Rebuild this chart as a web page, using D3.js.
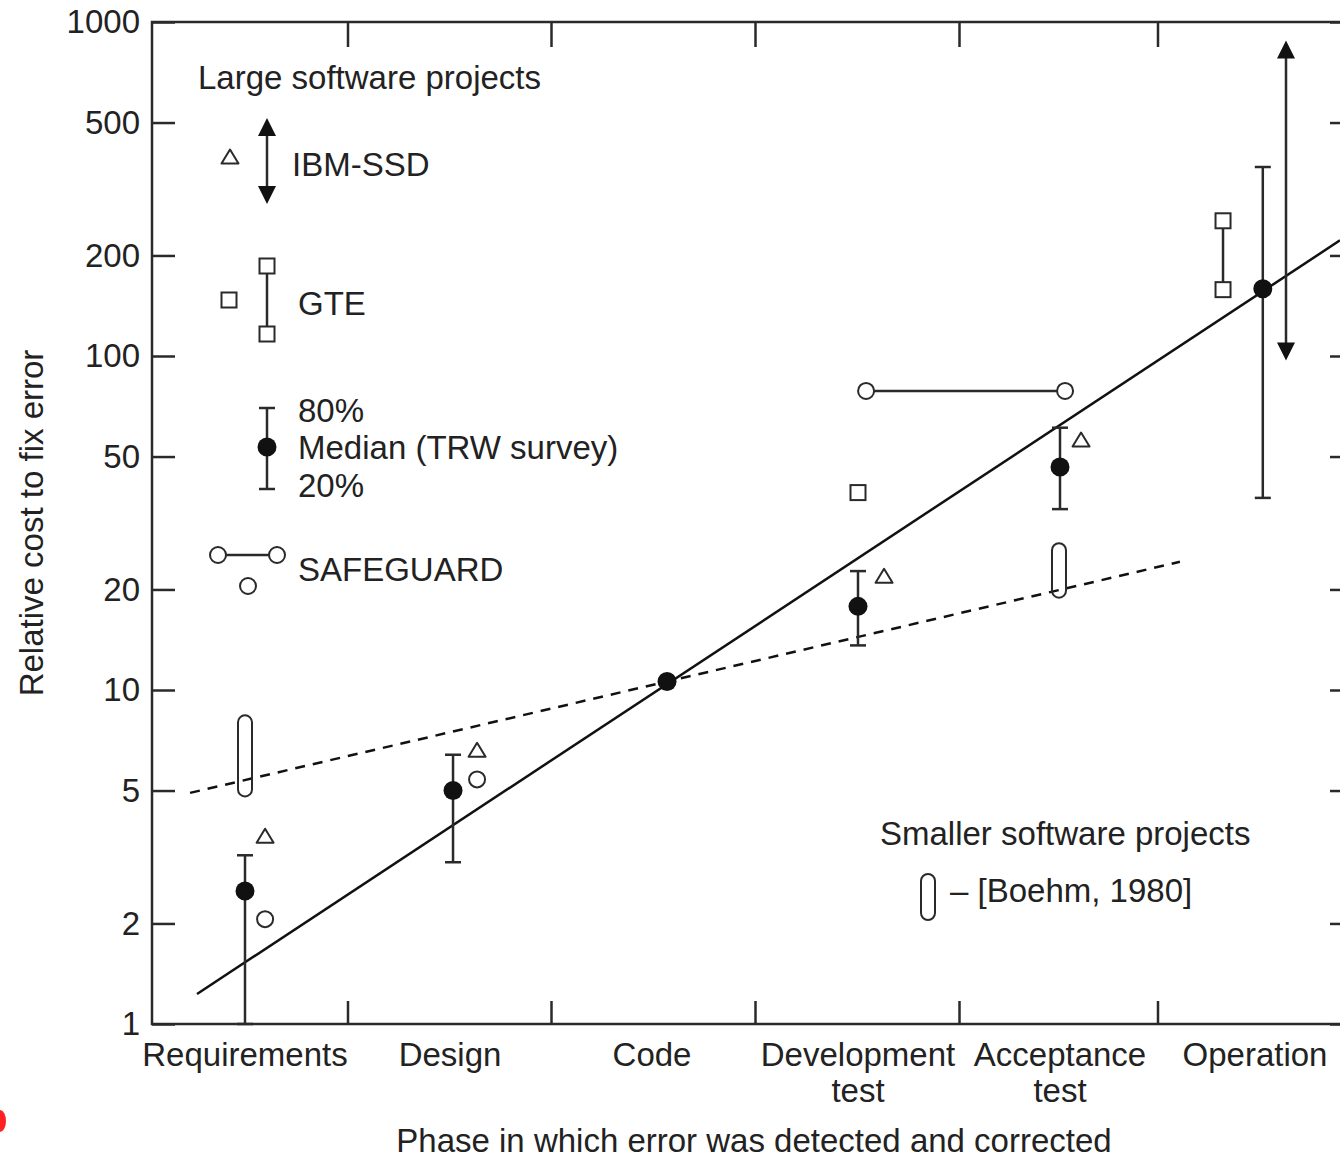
<!DOCTYPE html>
<html>
<head>
<meta charset="utf-8">
<script src="https://cdn.jsdelivr.net/npm/d3@7"></script>
<style>
  html, body { margin: 0; padding: 0; background: #fff; }
  svg { display: block; }
  text { font-family: "Liberation Sans", Arial, Helvetica, sans-serif; fill: #222; }
</style>
</head>
<body>
<svg id="chart" width="1340" height="1159"></svg>
<script>
// ---------------- DATA ----------------
const phases = ["Requirements", "Design", "Code", "Development\ntest", "Acceptance\ntest", "Operation"];
const phaseBoundaries = [0.5, 1.5, 2.5, 3.5, 4.5];
const yTicks = [1, 2, 5, 10, 20, 50, 100, 200, 500, 1000];

// TRW survey: median with 20% / 80% range
const trwPhase  = [0, 1.015, 2.073, 3, 4, 5.04];
const trwMedian = [2.5, 5.0, 10.6, 17.8, 46.5, 159];
const trwP80    = [3.2, 6.4, null, 22.7, 61, 368];
const trwP20    = [1.0, 3.05, null, 13.6, 34.8, 37.6];

// IBM-SSD (triangles) and range arrow
const ibmPhase = [0.098, 1.134, 3.129, 4.108];
const ibmValue = [3.65, 6.6, 21.9, 56];
const ibmRangePhase = 5.159;
const ibmRange = [97, 880];

// GTE (squares)
const gtePhase = [3.0];
const gteValue = [39];
const gteRangePhase = 4.836;
const gteRange = [158, 254];

// SAFEGUARD (open circles)
const sgPhase = [0.098, 1.134];
const sgValue = [2.06, 5.4];
const sgRangePhase = [3.04, 4.026];
const sgRangeValue = 78.6;

// Boehm 1980, smaller software projects (capsules)
const boehmPhase = [0, 3.995];
const boehmLow   = [4.8, 18.9];
const boehmHigh  = [8.4, 27.5];

// Trend lines
const solidTrendPhase = [-0.234, 5.436];
const solidTrendValue = [1.23, 222];
const dashTrendPhase  = [-0.268, 4.615];
const dashTrendValue  = [4.92, 24.2];

// ---------------- LAYOUT ----------------
const svg = d3.select("#chart");
const FONT = 33;
const INK = "#2a2a2a";
const plotLeft = 152, plotRight = 1352;

const x = d3.scaleLinear().domain([0, 1, 2, 3, 4, 5]).range([245, 450, 652, 858, 1060, 1255]);
const y = d3.scaleLog().domain([1, 1000]).range([1024, 22]);
const plotTop = y(1000), plotBottom = y(1);

// frame
svg.append("rect")
  .attr("x", plotLeft).attr("y", plotTop)
  .attr("width", plotRight - plotLeft).attr("height", plotBottom - plotTop)
  .attr("fill", "none").attr("stroke", INK).attr("stroke-width", 2.5);

// left axis
const gL = svg.append("g").attr("transform", `translate(${plotLeft},0)`)
  .call(d3.axisLeft(y).tickValues(yTicks).tickSize(-23).tickPadding(12).tickFormat(d3.format("d")));
gL.select(".domain").remove();
gL.selectAll(".tick line").attr("stroke", INK).attr("stroke-width", 2.5);
gL.selectAll(".tick text").style("font-size", FONT + "px").attr("fill", "#222")
  .style("font-family", "'Liberation Sans', Arial, sans-serif");

// right axis (ticks only)
const gR = svg.append("g").attr("transform", `translate(${plotRight},0)`)
  .call(d3.axisRight(y).tickValues(yTicks).tickSize(-22).tickFormat(""));
gR.select(".domain").remove();
gR.selectAll(".tick line").attr("stroke", INK).attr("stroke-width", 2.5);

// top axis (ticks only)
const gT = svg.append("g").attr("transform", `translate(0,${plotTop})`)
  .call(d3.axisTop(x).tickValues(phaseBoundaries).tickSize(-25).tickFormat(""));
gT.select(".domain").remove();
gT.selectAll(".tick line").attr("stroke", INK).attr("stroke-width", 2.5);

// bottom axis (ticks only)
const gB = svg.append("g").attr("transform", `translate(0,${plotBottom})`)
  .call(d3.axisBottom(x).tickValues(phaseBoundaries).tickSize(-23).tickFormat(""));
gB.select(".domain").remove();
gB.selectAll(".tick line").attr("stroke", INK).attr("stroke-width", 2.5);

// bottom category labels
const catG = svg.append("g");
phases.forEach((p, i) => {
  const t = catG.append("text").attr("text-anchor", "middle")
    .attr("x", x(i)).attr("y", plotBottom + 42).style("font-size", FONT + "px");
  p.split("\n").forEach((line, j) => {
    t.append("tspan").attr("x", x(i)).attr("dy", j === 0 ? 0 : 36).text(line);
  });
});

// axis titles
svg.append("text").attr("text-anchor", "middle")
  .attr("x", 754).attr("y", 1152).style("font-size", FONT + "px")
  .text("Phase in which error was detected and corrected");
svg.append("text").attr("text-anchor", "middle")
  .attr("transform", "translate(43,523) rotate(-90)").style("font-size", FONT + "px")
  .text("Relative cost to fix error");

// ---------------- TREND LINES ----------------
const lineGen = d3.line().x(d => x(d[0])).y(d => y(d[1]));
svg.append("path")
  .attr("d", lineGen(d3.zip(solidTrendPhase, solidTrendValue)))
  .attr("fill", "none").attr("stroke", "#111").attr("stroke-width", 2.5);
svg.append("path")
  .attr("d", lineGen(d3.zip(dashTrendPhase, dashTrendValue)))
  .attr("fill", "none").attr("stroke", "#111").attr("stroke-width", 2.5)
  .attr("stroke-dasharray", "10,8");

// ---------------- MARKER HELPERS ----------------
const g = svg.append("g");
function triangle(cx, cy) {
  g.append("path").attr("d", `M${cx},${cy - 7.5} L${cx + 8.5},${cy + 6.5} L${cx - 8.5},${cy + 6.5} Z`)
    .attr("fill", "#fff").attr("stroke", INK).attr("stroke-width", 2).attr("stroke-linejoin", "round");
}
function square(cx, cy) {
  g.append("rect").attr("x", cx - 7.5).attr("y", cy - 7.5).attr("width", 15).attr("height", 15)
    .attr("fill", "#fff").attr("stroke", INK).attr("stroke-width", 2);
}
function openCircle(cx, cy) {
  g.append("circle").attr("cx", cx).attr("cy", cy).attr("r", 8)
    .attr("fill", "#fff").attr("stroke", INK).attr("stroke-width", 2);
}
function dot(cx, cy) {
  g.append("circle").attr("cx", cx).attr("cy", cy).attr("r", 9.5).attr("fill", "#111");
}
function vline(cx, y1, y2, w) {
  g.append("line").attr("x1", cx).attr("x2", cx).attr("y1", y1).attr("y2", y2)
    .attr("stroke", INK).attr("stroke-width", w || 2.5);
}
function hline(x1, x2, cy, w) {
  g.append("line").attr("x1", x1).attr("x2", x2).attr("y1", cy).attr("y2", cy)
    .attr("stroke", INK).attr("stroke-width", w || 2.5);
}
function errorBar(cx, yTop, yBot) {
  vline(cx, yTop, yBot);
  hline(cx - 8, cx + 8, yTop);
  hline(cx - 8, cx + 8, yBot);
}
function capsule(cx, yTop, yBot) {
  g.append("rect").attr("x", cx - 7).attr("y", yTop).attr("width", 14).attr("height", yBot - yTop)
    .attr("rx", 7).attr("ry", 7).attr("fill", "none").attr("stroke", INK).attr("stroke-width", 2);
}
function doubleArrow(cx, yTop, yBot) {
  const hl = 18, hw = 9;
  vline(cx, yTop + hl - 2, yBot - hl + 2, 2.5);
  g.append("path").attr("d", `M${cx},${yTop} L${cx + hw},${yTop + hl} L${cx - hw},${yTop + hl} Z`).attr("fill", "#111");
  g.append("path").attr("d", `M${cx},${yBot} L${cx + hw},${yBot - hl} L${cx - hw},${yBot - hl} Z`).attr("fill", "#111");
}

// ---------------- DATA MARKS ----------------
boehmPhase.forEach((p, i) => capsule(x(p), y(boehmHigh[i]), y(boehmLow[i])));

vline(x(gteRangePhase), y(gteRange[1]), y(gteRange[0]));
gteRange.forEach(v => square(x(gteRangePhase), y(v)));
gtePhase.forEach((p, i) => square(x(p), y(gteValue[i])));

hline(x(sgRangePhase[0]), x(sgRangePhase[1]), y(sgRangeValue));
sgRangePhase.forEach(p => openCircle(x(p), y(sgRangeValue)));
sgPhase.forEach((p, i) => openCircle(x(p), y(sgValue[i])));

ibmPhase.forEach((p, i) => triangle(x(p), y(ibmValue[i])));
doubleArrow(x(ibmRangePhase), y(ibmRange[1]), y(ibmRange[0]));

trwPhase.forEach((p, i) => {
  if (trwP80[i] != null) errorBar(x(p), y(trwP80[i]), y(trwP20[i]));
  dot(x(p), y(trwMedian[i]));
});

// ---------------- LEGEND ----------------
svg.append("text").attr("x", 198).attr("y", 89).style("font-size", FONT + "px").text("Large software projects");
triangle(230, 157);
doubleArrow(267, 118, 204);
svg.append("text").attr("x", 292).attr("y", 176).style("font-size", FONT + "px").text("IBM-SSD");

square(229, 300);
vline(267, 266, 334);
square(267, 266);
square(267, 334);
svg.append("text").attr("x", 298).attr("y", 315).style("font-size", FONT + "px").text("GTE");

errorBar(267, 408, 489);
dot(267, 447);
svg.append("text").attr("x", 298).attr("y", 422).style("font-size", FONT + "px").text("80%");
svg.append("text").attr("x", 298).attr("y", 459).style("font-size", FONT + "px").text("Median (TRW survey)");
svg.append("text").attr("x", 298).attr("y", 497).style("font-size", FONT + "px").text("20%");

hline(218, 277, 555);
openCircle(218, 555);
openCircle(277, 555);
openCircle(248, 586);
svg.append("text").attr("x", 298).attr("y", 581).style("font-size", FONT + "px").text("SAFEGUARD");

svg.append("text").attr("x", 880).attr("y", 845).style("font-size", FONT + "px").text("Smaller software projects");
capsule(928, 874, 920);
svg.append("text").attr("x", 950).attr("y", 902).style("font-size", FONT + "px").text("– [Boehm, 1980]");

// small red mark at the lower-left edge
svg.append("ellipse").attr("cx", 0).attr("cy", 1121).attr("rx", 6).attr("ry", 11).attr("fill", "#f22");
</script>
</body>
</html>
